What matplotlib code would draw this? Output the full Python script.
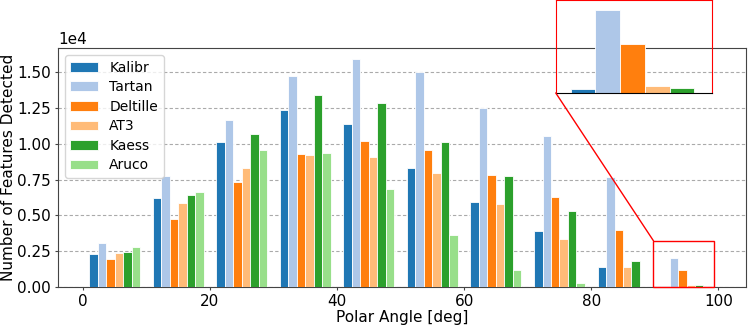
import numpy as np
import matplotlib
matplotlib.use('Agg')
import matplotlib.pyplot as plt
from matplotlib.patches import Rectangle, ConnectionPatch
from matplotlib.ticker import MultipleLocator

# polar angle bins (deg), bin start
bins = [0, 10, 20, 30, 40, 50, 60, 70, 80, 90]
methods = ['Kalibr', 'Tartan', 'Deltille', 'AT3', 'Kaess', 'Aruco']
colors = ['#1f77b4', '#aec7e8', '#ff7f0e', '#ffbb78', '#2ca02c', '#98df8a']

kalibr   = [2320, 6230, 10140, 12350, 11370, 8320, 5950, 3930, 1420, 90]
tartan   = [3090, 7770, 11630, 14740, 15880, 15000, 12460, 10510, 7670, 2000]
deltille = [1930, 4740, 7300, 9250, 10160, 9550, 7840, 6300, 4000, 1180]
at3      = [2340, 5830, 8280, 9230, 9040, 7970, 5760, 3320, 1420, 160]
kaess    = [2440, 6440, 10700, 13420, 12860, 10090, 7770, 5280, 1840, 110]
aruco    = [2760, 6600, 9530, 9340, 6810, 3600, 1210, 250, 20, 0]

counts = [kalibr, tartan, deltille, at3, kaess, aruco]

fig = plt.figure(figsize=(7.48, 3.25), dpi=100)
ax = fig.add_axes([0.0775, 0.117, 0.9195, 0.735])

w = 8 / 6
x0 = np.array(bins) + 1
for j in range(6):
    ax.bar(x0 + j * w, counts[j], width=w, align='edge', color=colors[j],
           edgecolor='white', linewidth=0.6, label=methods[j], zorder=3)

ax.set_xlabel('Polar Angle [deg]', fontsize=11, labelpad=1)
ax.set_ylabel('Number of Features Detected', fontsize=11, labelpad=1)
ax.ticklabel_format(axis='y', style='sci', scilimits=(4, 4))
ax.yaxis.set_major_locator(MultipleLocator(2500))
ax.yaxis.get_offset_text().set_fontsize(11)
ax.tick_params(labelsize=11, length=2.5, pad=2.5, color='#444444')
ax.grid(axis='y', linestyle=(0, (3, 2)), color='#aaaaaa', linewidth=0.8)
for s in ax.spines.values():
    s.set_color('#444444')
ax.legend(loc='upper left', fontsize=10, labelspacing=0.4)

# zoomed inset of the last bin
axins = fig.add_axes([0.743, 0.714, 0.2086, 0.286])
for j in range(6):
    axins.bar(x0 + j * w, counts[j], width=w, align='edge', color=colors[j],
              edgecolor='white', linewidth=0.6)
axins.set_xlim(90.2, 98.6)
axins.set_ylim(0, 2232)
axins.set_xticks([])
axins.set_yticks([])
axins.patch.set_alpha(0)
for s in ['top', 'left', 'right']:
    axins.spines[s].set_color('red')
axins.spines['bottom'].set_color('black')

ax.add_patch(Rectangle((89.8, 0), 9.6, 3220, fill=False, edgecolor='red',
                       linewidth=1, zorder=4, clip_on=False))
con = ConnectionPatch(xyA=(90.2, 0), coordsA=axins.transData,
                      xyB=(89.8, 3220), coordsB=ax.transData,
                      color='red', linewidth=1)
fig.add_artist(con)

fig.savefig('out.png', dpi=100)
